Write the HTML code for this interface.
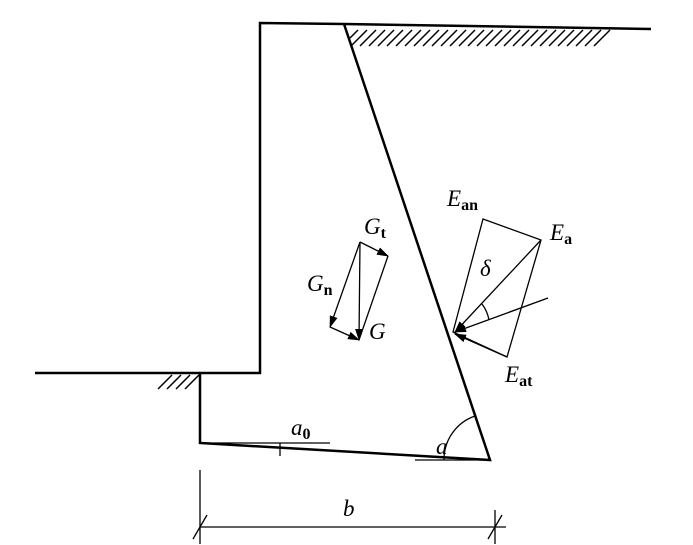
<!DOCTYPE html>
<html><head><style>html,body{margin:0;padding:0;background:#fff}svg{display:block}
text{font-family:"Liberation Serif",serif;font-style:italic;fill:#000}
tspan.s{font-style:normal;font-weight:bold;font-size:16px}</style></head><body>
<svg width="693" height="545" viewBox="0 0 693 545" xmlns="http://www.w3.org/2000/svg">
<defs><marker id="ah" markerWidth="12" markerHeight="8" refX="11" refY="4" orient="auto" markerUnits="userSpaceOnUse"><path d="M0,0 L12,4 L0,8 Z" fill="#000"/></marker></defs>
<g stroke="#000" fill="none">
<polyline points="35,373 260,373 260,23 344,24 651,29" stroke-width="2.5"/>
<polyline points="344,24 490,460 200,443 200,373" stroke-width="2.5"/>
<g stroke-width="1.5">
<line x1="358" y1="30" x2="350" y2="38"/><line x1="367" y1="30" x2="351" y2="46"/>
<line x1="376" y1="30" x2="360" y2="46"/><line x1="385" y1="30" x2="369" y2="46"/>
<line x1="394" y1="30" x2="378" y2="46"/><line x1="403" y1="30" x2="387" y2="46"/>
<line x1="412" y1="30" x2="396" y2="46"/><line x1="421" y1="30" x2="405" y2="46"/>
<line x1="430" y1="30" x2="414" y2="46"/><line x1="439" y1="30" x2="423" y2="46"/>
<line x1="448" y1="30" x2="432" y2="46"/><line x1="457" y1="30" x2="441" y2="46"/>
<line x1="466" y1="30" x2="450" y2="46"/><line x1="475" y1="30" x2="459" y2="46"/>
<line x1="484" y1="30" x2="468" y2="46"/><line x1="493" y1="30" x2="477" y2="46"/>
<line x1="502" y1="30" x2="486" y2="46"/><line x1="511" y1="30" x2="495" y2="46"/>
<line x1="520" y1="30" x2="504" y2="46"/><line x1="529" y1="30" x2="513" y2="46"/>
<line x1="538" y1="30" x2="522" y2="46"/><line x1="547" y1="30" x2="531" y2="46"/>
<line x1="556" y1="30" x2="540" y2="46"/><line x1="565" y1="30" x2="549" y2="46"/>
<line x1="574" y1="30" x2="558" y2="46"/><line x1="583" y1="30" x2="567" y2="46"/>
<line x1="592" y1="30" x2="576" y2="46"/><line x1="601" y1="30" x2="585" y2="46"/>
<line x1="610" y1="30" x2="594" y2="46"/>
<line x1="172" y1="375" x2="158" y2="389"/><line x1="181" y1="375" x2="167" y2="389"/>
<line x1="190" y1="375" x2="176" y2="389"/><line x1="199" y1="375" x2="185" y2="389"/>
</g>
<g stroke-width="1.3">
<line x1="200" y1="443" x2="330" y2="443"/><line x1="280" y1="443" x2="280" y2="456"/>
<line x1="415" y1="460" x2="490" y2="460"/>
<path d="M444,460 A46,46 0 0 1 475,416"/>
<line x1="200" y1="470" x2="200" y2="544"/><line x1="495" y1="510" x2="495" y2="544"/>
<line x1="200" y1="527" x2="506" y2="527"/>
<line x1="193" y1="539" x2="207" y2="515"/><line x1="488" y1="539" x2="502" y2="515"/>
<line x1="360" y1="242" x2="388" y2="256" marker-end="url(#ah)"/>
<line x1="360" y1="242" x2="359" y2="340" marker-end="url(#ah)"/>
<line x1="360" y1="242" x2="330" y2="327" marker-end="url(#ah)"/>
<line x1="330" y1="327" x2="359" y2="340" marker-end="url(#ah)"/>
<line x1="388" y1="256" x2="359" y2="340"/>
<polygon points="483,219 541,240 507,357 453,332"/>
<line x1="541" y1="240" x2="455" y2="332" marker-end="url(#ah)"/>
<line x1="548" y1="298" x2="455" y2="332" marker-end="url(#ah)"/>
<line x1="507" y1="357" x2="455" y2="334" marker-end="url(#ah)"/>
<path d="M482,304 A38,38 0 0 1 489,320"/>
</g></g>
<text x="447" y="206" font-size="23">E<tspan class="s" dy="4">an</tspan></text>
<text x="550" y="240" font-size="23">E<tspan class="s" dy="4">a</tspan></text>
<text x="480" y="276" font-size="23">δ</text>
<text x="505" y="382" font-size="23">E<tspan class="s" dy="4">at</tspan></text>
<text x="364" y="234" font-size="23">G<tspan class="s" dy="4">t</tspan></text>
<text x="307" y="291" font-size="23">G<tspan class="s" dy="4">n</tspan></text>
<text x="369" y="339" font-size="23">G</text>
<text x="291" y="435" font-size="23">a<tspan class="s" dy="4">0</tspan></text>
<text x="436" y="454" font-size="23">a</text>
<text x="343" y="516" font-size="23">b</text>
</svg></body></html>
